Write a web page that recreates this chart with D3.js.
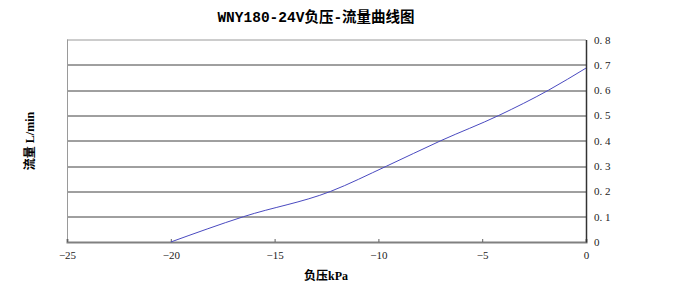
<!DOCTYPE html>
<html>
<head>
<meta charset="utf-8">
<script src="https://cdn.jsdelivr.net/npm/d3@7"></script>
<style>
  body { margin: 0; background: #fff; }
  text { font-family: "Liberation Serif", "Noto Sans CJK SC", serif; }
</style>
</head>
<body>
<div id="chart"></div>
<script>
// chart data
var pressure = [-20, -16.5, -12.3, -9.6, -7.0, -4.2, -1.8, 0];
var flow = [0, 0.1, 0.2, 0.3, 0.4, 0.5, 0.6, 0.687];
var xTicks = [-25, -20, -15, -10, -5, 0];
var yTicks = [0, 0.1, 0.2, 0.3, 0.4, 0.5, 0.6, 0.7, 0.8];

var svgWidth = 690;
var svgHeight = 290;

var margin = { top: 39.5, right: 104, bottom: 48, left: 67 };
var width = 586 - margin.left;
var height = 242 - margin.top;

var svg = d3.select("#chart")
  .append("svg")
  .attr("width", svgWidth)
  .attr("height", svgHeight);

var chartGroup = svg.append("g")
  .attr("transform", `translate(${margin.left}, ${margin.top})`);

var xScale = d3.scaleLinear().domain([-25, 0]).range([0, width]);
var yScale = d3.scaleLinear().domain([0, 0.8]).range([height, 0]);

// horizontal grid lines
chartGroup.selectAll(".grid")
  .data(yTicks.slice(1, -1))
  .enter()
  .append("line")
  .attr("x1", 0)
  .attr("x2", width)
  .attr("y1", d => Math.round(yScale(d)) + 0.5)
  .attr("y2", d => Math.round(yScale(d)) + 0.5)
  .attr("stroke", "#404040")
  .attr("stroke-width", 1);

// top and left borders
chartGroup.append("line")
  .attr("x1", 0).attr("x2", width)
  .attr("y1", 0.5).attr("y2", 0.5)
  .attr("stroke", "#9a9a9a");
chartGroup.append("line")
  .attr("x1", 0.5).attr("x2", 0.5)
  .attr("y1", 0).attr("y2", height)
  .attr("stroke", "#9a9a9a");

// bottom axis
var bottomAxis = d3.axisBottom(xScale)
  .tickValues(xTicks)
  .tickSize(-3)
  .tickPadding(9)
  .tickFormat(d => d < 0 ? "\u2212" + Math.abs(d) : d);

var xAxisG = chartGroup.append("g")
  .attr("transform", `translate(0, ${height})`)
  .call(bottomAxis);
xAxisG.select(".domain").attr("stroke", "#808080").attr("stroke-width", 2);
xAxisG.selectAll(".tick line").attr("stroke", "#606060");
xAxisG.selectAll("text")
  .attr("font-size", "11px")
  .attr("fill", "#222");

// right axis
var rightAxis = d3.axisRight(yScale)
  .tickValues(yTicks)
  .tickSize(0)
  .tickPadding(8)
  .tickFormat(d => d === 0 ? "0" : d3.format(".1f")(d).replace(".", ". "));

var yAxisG = chartGroup.append("g")
  .attr("transform", `translate(${width}, 0)`)
  .call(rightAxis);
yAxisG.select(".domain").attr("stroke", "#333").attr("stroke-width", 1.5);
yAxisG.selectAll("text")
  .attr("font-size", "11px")
  .attr("fill", "#222");

// flow curve
var line = d3.line()
  .x((d, i) => xScale(pressure[i]))
  .y(d => yScale(d))
  .curve(d3.curveMonotoneX);

chartGroup.append("path")
  .datum(flow)
  .attr("d", line)
  .attr("fill", "none")
  .attr("stroke", "#4a4ac0")
  .attr("stroke-width", 1);

// title
svg.append("text")
  .attr("x", 316)
  .attr("y", 22)
  .attr("text-anchor", "middle")
  .attr("font-size", "14.5px")
  .attr("font-weight", "bold")
  .style("font-family", "'Liberation Mono', 'Noto Sans CJK SC', monospace")
  .text("WNY180-24V负压-流量曲线图");

// axis labels
svg.append("text")
  .attr("transform", "translate(34, 141) rotate(-90)")
  .attr("text-anchor", "middle")
  .attr("font-size", "12px")
  .attr("font-weight", "bold")
  .text("流量 L/min");

svg.append("text")
  .attr("x", 326)
  .attr("y", 280)
  .attr("text-anchor", "middle")
  .attr("font-size", "12px")
  .attr("font-weight", "bold")
  .text("负压kPa");
</script>
</body>
</html>
